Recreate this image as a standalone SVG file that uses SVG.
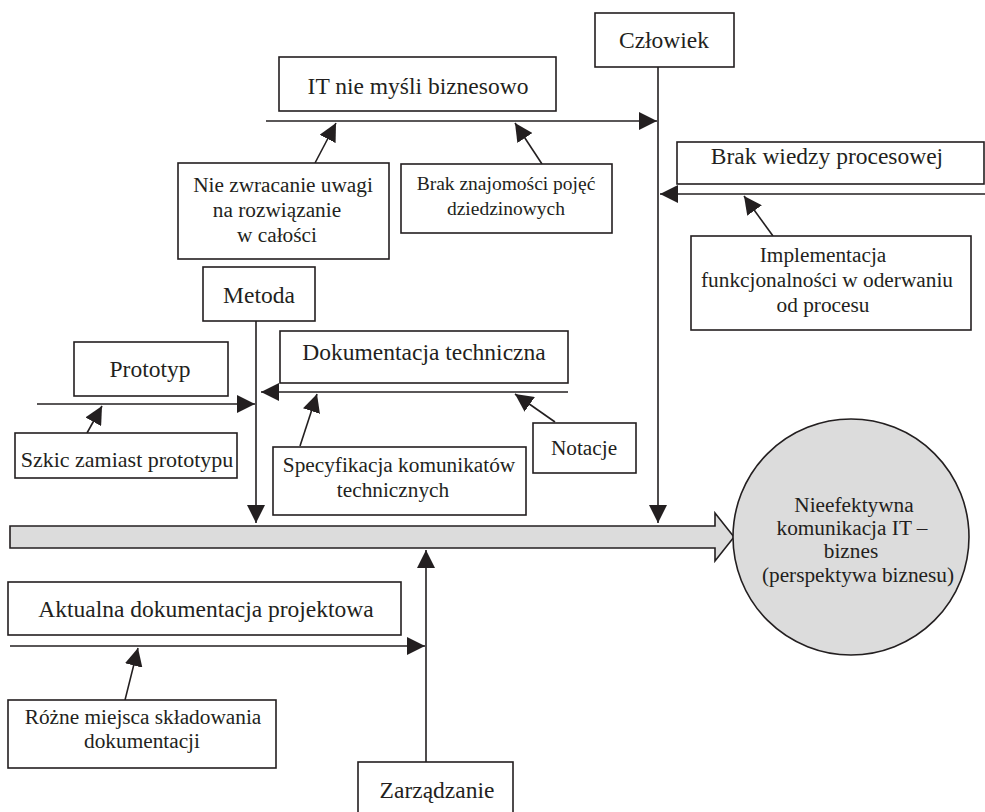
<svg xmlns="http://www.w3.org/2000/svg" width="985" height="812" viewBox="0 0 985 812">
<style>
.box{fill:#fff;stroke:#231f20;stroke-width:1.6}
.ln{stroke:#231f20;stroke-width:1.6;fill:none}
.ar{stroke:#231f20;stroke-width:1.6;fill:none;marker-end:url(#ah)}
.t{font-family:"Liberation Serif","Times New Roman",serif;fill:#231f20;text-anchor:middle}
.L{font-size:23.5px}
.S{font-size:21.3px}
.XS{font-size:19.5px}
</style>
<defs>
<marker id="ah" markerUnits="userSpaceOnUse" markerWidth="18" markerHeight="18" refX="18" refY="9" orient="auto"><path d="M0,0 L18,9 L0,18 z" fill="#231f20"/></marker>
</defs>
<rect width="985" height="812" fill="#fff"/>
<g id="connectors">
<polygon points="10,526 715,526 715,513 734,537 715,561 715,548 10,548" fill="#dcdcdc" stroke="#231f20" stroke-width="1.6"/>
<line class="ar" x1="658" y1="67" x2="658" y2="523"/>
<line class="ar" x1="256" y1="321" x2="256" y2="523"/>
<line class="ar" x1="426" y1="762" x2="426" y2="550"/>
<line class="ar" x1="266" y1="121" x2="657" y2="121"/>
<line class="ar" x1="985" y1="194" x2="660" y2="194"/>
<line class="ar" x1="37" y1="404" x2="255" y2="404"/>
<line class="ar" x1="568" y1="392" x2="261" y2="392"/>
<line class="ar" x1="10" y1="646" x2="425" y2="646"/>
<line class="ar" x1="315" y1="163" x2="336" y2="123"/>
<line class="ar" x1="542" y1="164" x2="515" y2="123"/>
<line class="ar" x1="773" y1="236" x2="744" y2="196"/>
<line class="ar" x1="87" y1="433" x2="102" y2="406"/>
<line class="ar" x1="300" y1="446" x2="317" y2="394"/>
<line class="ar" x1="555" y1="422" x2="515" y2="394"/>
<line class="ar" x1="125" y1="700" x2="138" y2="648"/>
</g>
<g id="czlowiek"><rect class="box" x="595" y="13" width="139" height="54"/><text class="t L" x="664" y="48">Człowiek</text></g>
<g id="it-nie-mysli"><rect class="box" x="279" y="57" width="277" height="54"/><text class="t L" x="418" y="94">IT nie myśli biznesowo</text></g>
<g id="nie-zwracanie"><rect class="box" x="178" y="163" width="211" height="96"/><text class="t S" x="283" y="192">Nie zwracanie uwagi</text><text class="t S" x="277" y="217">na rozwiązanie</text><text class="t S" x="277" y="242">w całości</text></g>
<g id="brak-znajomosci"><rect class="box" x="401" y="164" width="211" height="69"/><text class="t XS" x="506" y="190">Brak znajomości pojęć</text><text class="t XS" x="506" y="215">dziedzinowych</text></g>
<g id="brak-wiedzy"><rect class="box" x="677" y="142" width="307" height="42"/><text class="t L" x="827" y="164">Brak wiedzy procesowej</text></g>
<g id="implementacja"><rect class="box" x="691" y="236" width="280" height="94"/><text class="t S" x="823" y="262">Implementacja</text><text class="t S" x="827" y="287">funkcjonalności w oderwaniu</text><text class="t S" x="823" y="312">od procesu</text></g>
<g id="metoda"><rect class="box" x="203" y="267" width="112" height="54"/><text class="t L" x="259" y="303">Metoda</text></g>
<g id="prototyp"><rect class="box" x="74" y="342" width="154" height="54"/><text class="t L" x="150" y="377">Prototyp</text></g>
<g id="szkic"><rect class="box" x="15" y="433" width="222" height="45"/><text class="t" style="font-size:22px" x="127" y="467">Szkic zamiast prototypu</text></g>
<g id="dokumentacja-techniczna"><rect class="box" x="280" y="331" width="288" height="52"/><text class="t L" x="424" y="360">Dokumentacja techniczna</text></g>
<g id="specyfikacja"><rect class="box" x="273" y="447" width="253" height="68"/><text class="t S" x="399" y="472">Specyfikacja komunikatów</text><text class="t S" x="393" y="497">technicznych</text></g>
<g id="notacje"><rect class="box" x="533" y="423" width="103" height="50"/><text class="t S" x="584" y="455">Notacje</text></g>
<g id="skutek"><circle cx="851" cy="537" r="118" fill="#dcdcdc" stroke="#231f20" stroke-width="1.6"/><text class="t S" x="854" y="512">Nieefektywna</text><text class="t S" x="852" y="535">komunikacja IT –</text><text class="t S" x="851" y="558">biznes</text><text class="t S" x="858" y="582">(perspektywa biznesu)</text></g>
<g id="aktualna-dokumentacja"><rect class="box" x="8" y="582" width="393" height="53"/><text class="t L" x="206" y="617">Aktualna dokumentacja projektowa</text></g>
<g id="rozne-miejsca"><rect class="box" x="8" y="700" width="268" height="68"/><text class="t S" x="143" y="724">Różne miejsca składowania</text><text class="t S" x="142" y="748">dokumentacji</text></g>
<g id="zarzadzanie"><rect class="box" x="358" y="762" width="155" height="60"/><text class="t L" x="437" y="798">Zarządzanie</text></g>
</svg>
